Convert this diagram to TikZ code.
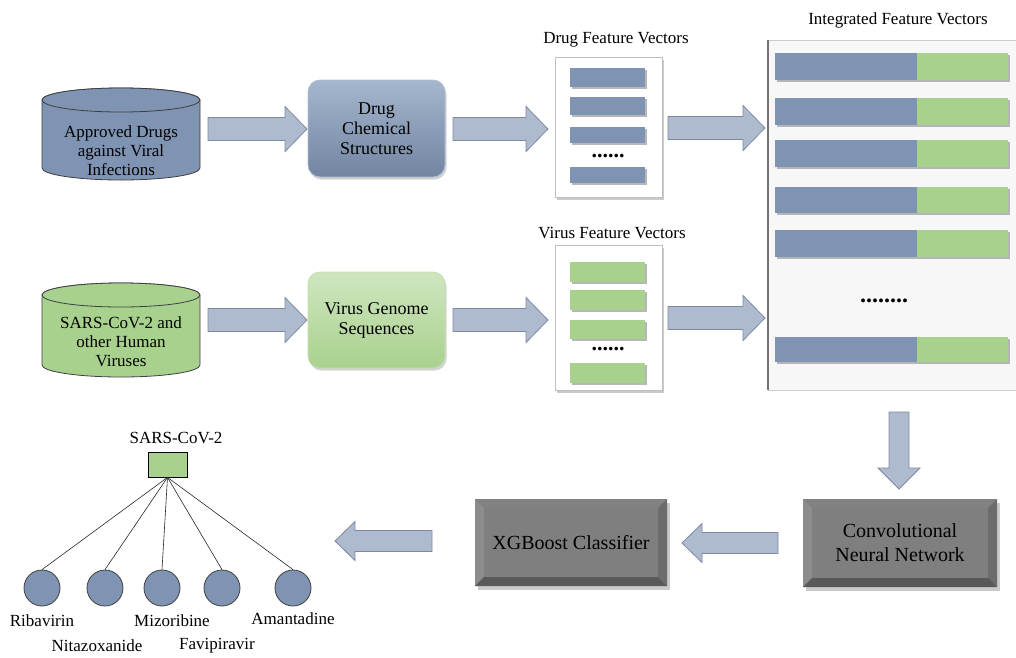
\documentclass[tikz,border=0pt]{standalone}
\usepackage{fontspec}
\setmainfont{Liberation Serif}
\usetikzlibrary{shadows}
\definecolor{bluef}{HTML}{7F93B2}
\definecolor{bluelt}{HTML}{A5B6CE}
\definecolor{greenf}{HTML}{A9D18E}
\definecolor{greenlt}{HTML}{CFE6BF}
\definecolor{arrowf}{HTML}{AEBBCF}
\definecolor{arrowd}{HTML}{7C899F}
\definecolor{dkbox}{HTML}{7F7F7F}
\definecolor{edgedk}{HTML}{3F3F3F}
\tikzset{
  lbl/.style={font=\fontsize{17}{19}\selectfont, align=center, inner sep=0pt},
  boxlbl/.style={font=\fontsize{18}{20}\selectfont, align=center, inner sep=0pt},
  biglbl/.style={font=\fontsize{20}{24}\selectfont, align=center, inner sep=0pt},
  dotlbl/.style={font=\fontsize{22}{22}\selectfont\bfseries, inner sep=0pt},
  blockarrow/.style={fill=arrowf, draw=arrowd, line width=0.8pt, line join=miter},
  fvbox/.style={fill=white, draw=black!25, line width=0.8pt, drop shadow={shadow xshift=2pt, shadow yshift=-3pt, fill=black!35, opacity=0.6}},
  bar/.style={drop shadow={shadow xshift=1.5pt, shadow yshift=-2pt, fill=black!40, opacity=0.7}},
  leaf/.style={circle, minimum size=36pt, inner sep=0pt, fill=bluef, draw=edgedk, line width=0.8pt},
  edge/.style={draw=black!85, line width=0.6pt}
}
% right arrow: x1, x2, yc
\newcommand{\rarrow}[3]{\path[blockarrow] (#1,#3-11.5) -- (#2-22,#3-11.5) -- (#2-22,#3-22.5) -- (#2,#3) -- (#2-22,#3+22.5) -- (#2-22,#3+11.5) -- (#1,#3+11.5) -- cycle;}
% left arrow: x1 (tail, right), x2 (tip, left), yc
\newcommand{\larrow}[3]{\path[blockarrow] (#1,#3-10.5) -- (#2+20,#3-10.5) -- (#2+20,#3-19.5) -- (#2,#3) -- (#2+20,#3+19.5) -- (#2+20,#3+10.5) -- (#1,#3+10.5) -- cycle;}
% cylinder: x1 x2 ytop-center ybottom-center ry colour
\newcommand{\cyl}[6]{%
  \path[fill=#6, draw=edgedk, line width=0.8pt] (#1,#3) -- (#1,#4) arc[start angle=180, end angle=0, x radius={(#2-#1)/2}, y radius=#5] -- (#2,#3) arc[start angle=360, end angle=180, x radius={(#2-#1)/2}, y radius=#5] -- cycle;
  \path[fill=#6, draw=edgedk, line width=0.8pt] ({(#1+#2)/2},#3) ellipse[x radius={(#2-#1)/2}, y radius=#5];}
% bevel box: x1 y1 x2 y2
\newcommand{\bevelbox}[4]{%
  \fill[black!35, opacity=0.6] (#1+3,#2+4) rectangle (#3+3,#4+4);
  \fill[dkbox] (#1,#2) rectangle (#3,#4);
  \fill[black!22!dkbox!80!white] (#1,#2) -- (#3,#2) -- (#3-9,#2+9) -- (#1+9,#2+9) -- cycle;
  \fill[dkbox!90!white] (#1,#2) -- (#1+9,#2+9) -- (#1+9,#4-9) -- (#1,#4) -- cycle;
  \fill[dkbox!85!black] (#3,#2) -- (#3,#4) -- (#3-9,#4-9) -- (#3-9,#2+9) -- cycle;
  \fill[dkbox!70!black] (#1,#4) -- (#3,#4) -- (#3-9,#4-9) -- (#1+9,#4-9) -- cycle;}
\begin{document}
\begin{tikzpicture}[x=1pt, y=-1pt]
\useasboundingbox (0,0) rectangle (1016,657);

% ---------- row 1 ----------
\cyl{42}{200}{100}{168}{12}{bluef}
\node[lbl] (drugs) at (121,151) {Approved Drugs\\against Viral\\Infections};
\rarrow{208}{307}{129}
\node[boxlbl, minimum width=137pt, minimum height=97pt, rounded corners=12pt, top color=bluelt, bottom color=bluef!90!black, draw=bluef!60, line width=0.8pt,
  drop shadow={shadow xshift=1.5pt, shadow yshift=-2.5pt, fill=black!35, opacity=0.5}] (dcs) at (376.5,128.5) {Drug\\Chemical\\Structures};
\rarrow{453}{548}{129}
\node[fvbox, minimum width=107pt, minimum height=140pt, inner sep=0pt] (dfv) at (608.5,127) {};
\node[lbl] (dfvt) at (616,40) {Drug Feature Vectors};
\foreach \ya/\yb in {68/87, 97/115, 127/143, 167/183}
  \path[bar, fill=bluef] (570,\ya) rectangle (645,\yb);
\node[dotlbl] (ddots) at (608,156) {......};
\rarrow{668}{765}{128}

% ---------- row 2 ----------
\cyl{42}{200}{295}{365}{12}{greenf}
\node[lbl] (virs) at (121,342) {SARS-CoV-2 and\\other Human\\Viruses};
\rarrow{208}{307}{320}
\node[boxlbl, minimum width=137pt, minimum height=96pt, rounded corners=12pt, top color=greenlt, bottom color=greenf, draw=greenf!70, line width=0.8pt,
  drop shadow={shadow xshift=1.5pt, shadow yshift=-2.5pt, fill=black!35, opacity=0.5}] (vgs) at (376.5,320) {Virus Genome\\Sequences};
\rarrow{453}{548}{320}
\node[fvbox, minimum width=107pt, minimum height=145pt, inner sep=0pt] (vfv) at (608.5,317.5) {};
\node[lbl] (vfvt) at (612,233) {Virus Feature Vectors};
\foreach \ya/\yb in {262/282, 290/310, 320/339, 363/383}
  \path[bar, fill=greenf] (570,\ya) rectangle (645,\yb);
\node[dotlbl] (vdots) at (608,349) {......};
\rarrow{668}{765}{318}

% ---------- integrated ----------
\node[lbl] (ifvt) at (898,20) {Integrated Feature Vectors};
\path[fill=black!3, draw=black!20, line width=1pt] (768,40) rectangle (1020,390);
\draw[black!55, line width=2.5pt] (768,40) -- (768,390);
\foreach \ya/\yb in {53/80, 98/125, 140/167, 187/213, 230/257, 337/362} {
  \fill[black!40, opacity=0.7] (776.5,\ya+2) rectangle (1009.5,\yb+2);
  \fill[bluef] (775,\ya) rectangle (917,\yb);
  \fill[greenf] (917,\ya) rectangle (1008,\yb);
}
\node[dotlbl, font=\fontsize{24}{24}\selectfont\bfseries] (idots) at (884,301) {........};

% ---------- bottom row ----------
\path[blockarrow] (889,412) -- (909,412) -- (909,468) -- (920,468) -- (899,489) -- (878,468) -- (889,468) -- cycle;
\bevelbox{803}{499}{997}{587}
\node[biglbl] (cnn) at (900,543) {Convolutional\\Neural Network};
\larrow{778}{682}{543}
\bevelbox{475}{499}{667}{586}
\node[biglbl] (xgb) at (571,543) {XGBoost Classifier};
\larrow{432}{335}{541}

% ---------- tree ----------
\node[lbl] (rootlbl) at (176,438) {SARS-CoV-2};
\node[fill=greenf, draw=black, line width=0.8pt, minimum width=39pt, minimum height=25pt, inner sep=0pt] (root) at (167.5,464.5) {};
\node[leaf] (c1) at (42,588) {};
\node[leaf] (c2) at (105,588) {};
\node[leaf] (c3) at (162,588) {};
\node[leaf] (c4) at (222,588) {};
\node[leaf] (c5) at (293,588) {};
\foreach \c in {c1,c2,c3,c4,c5}
  \draw[edge] (root.south) -- (\c.north);
\node[lbl] (l1) at (42,621) {Ribavirin};
\node[lbl] (l2) at (97,646) {Nitazoxanide};
\node[lbl] (l3) at (172,621) {Mizoribine};
\node[lbl] (l4) at (217,646) {Favipiravir};
\node[lbl] (l5) at (293,619) {Amantadine};
\end{tikzpicture}
\end{document}
